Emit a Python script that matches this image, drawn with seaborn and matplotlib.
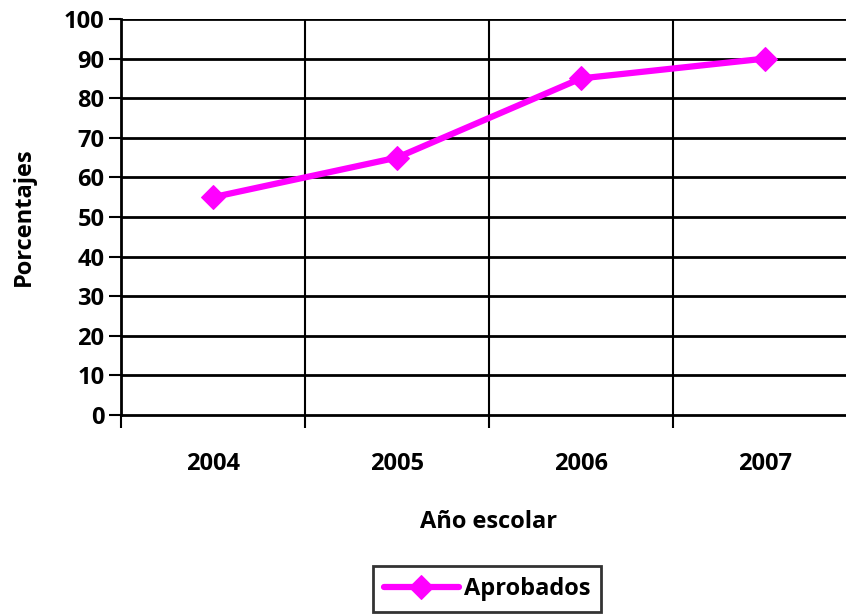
import matplotlib
matplotlib.use("Agg")
import matplotlib.pyplot as plt
import pandas as pd
import seaborn as sns

# Data
years = ["2004", "2005", "2006", "2007"]
aprobados = [55, 65, 85, 90]
y_ticks = list(range(0, 101, 10))

df = pd.DataFrame({"year": years, "value": aprobados})

sns.set_style("white")
plt.rcParams["font.family"] = ["Open Sans", "DejaVu Sans"]
plt.rcParams["font.weight"] = "bold"
plt.rcParams["text.color"] = "black"
plt.rcParams["axes.labelcolor"] = "black"
plt.rcParams["xtick.color"] = "black"
plt.rcParams["ytick.color"] = "black"

fs = 17
fig = plt.figure(figsize=(8.46, 6.16), dpi=100)
ax = fig.add_axes([121 / 846, 1 - 415 / 616, (857 - 121) / 846, (415 - 19) / 616])

sns.lineplot(data=df, x="year", y="value", ax=ax, color="#FF00FF", linewidth=4.5,
             marker="D", markersize=12, markeredgecolor="#FF00FF", label="Aprobados",
             legend=False, clip_on=False, zorder=5)

ax.set_xlim(-0.5, 3.5)
ax.set_ylim(0, 100)
ax.set_yticks(y_ticks)
ax.set_yticklabels([str(t) for t in y_ticks], fontsize=fs, fontweight="bold")

# category labels at centres, ticks/gridlines on the boundaries
ax.set_xticks(range(len(years)))
ax.set_xticklabels(years, fontsize=fs, fontweight="bold")
ax.tick_params(axis="x", which="major", bottom=True, length=0, pad=27)
ax.set_xticks([-0.5, 0.5, 1.5, 2.5, 3.5], minor=True)
ax.tick_params(axis="x", which="minor", bottom=True, length=9, width=1.5,
               color="black", direction="out")
ax.tick_params(axis="y", left=True, length=9, width=1.5, color="black",
               direction="out", pad=3)

ax.grid(False)
for y in y_ticks[1:]:
    ax.axhline(y, color="black", linewidth=2, zorder=1)
for x in [0.5, 1.5, 2.5]:
    ax.axvline(x, color="black", linewidth=1.5, zorder=1)

for side in ["top", "right"]:
    ax.spines[side].set_visible(False)
ax.spines["left"].set_linewidth(2)
ax.spines["bottom"].set_linewidth(2)
ax.spines["left"].set_color("black")
ax.spines["bottom"].set_color("black")

ax.set_xlabel("Año escolar", fontsize=fs, fontweight="bold", labelpad=24)
ax.set_ylabel("Porcentajes", fontsize=fs, fontweight="bold", labelpad=20)

handles, labels = ax.get_legend_handles_labels()
leg = fig.legend(handles, labels, loc="center", bbox_to_anchor=(487 / 846, 1 - 589 / 616),
                 frameon=True, fancybox=False, edgecolor="black", fontsize=fs,
                 handlelength=3.2, borderpad=0.45, handletextpad=0.2, borderaxespad=0)
leg.get_frame().set_linewidth(2)
for t in leg.get_texts():
    t.set_fontweight("bold")

fig.savefig("out.png", dpi=100)
